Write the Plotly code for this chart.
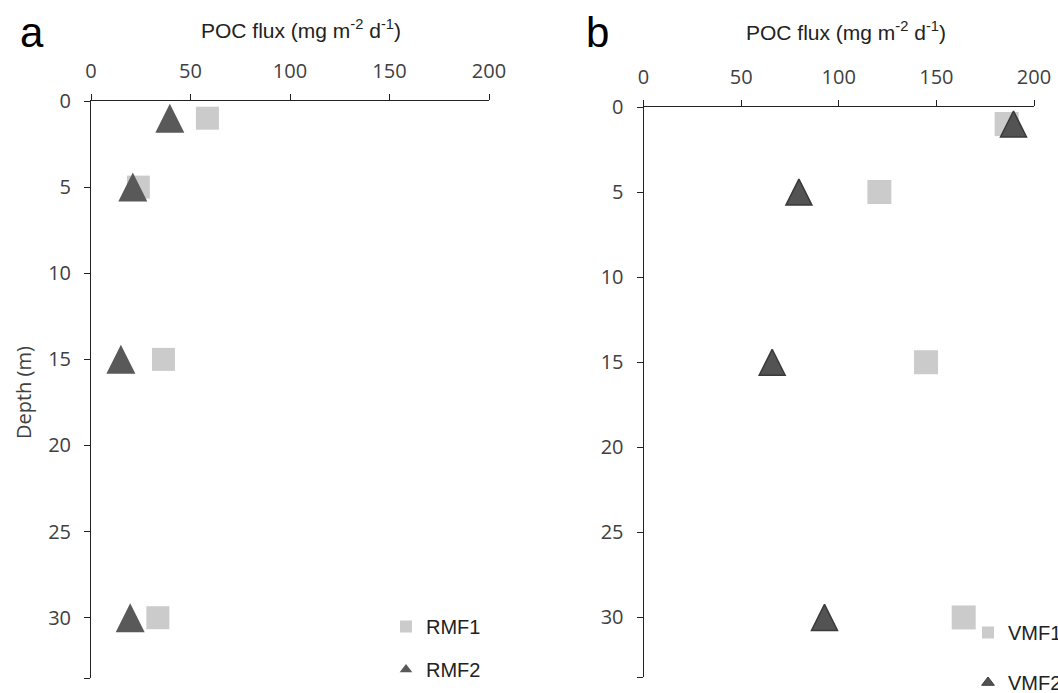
import plotly.graph_objects as go

# Sampling depths (m) and POC flux (mg m-2 d-1) per trap series
depth = [1, 5, 15, 30]
rmf1 = [58.5, 23.8, 36.4, 33.6]
rmf2 = [39.6, 21.0, 15.0, 19.7]
vmf1 = [186.0, 120.8, 144.7, 164.0]
vmf2 = [189.5, 79.6, 65.9, 92.7]

flux_ticks = [0, 50, 100, 150, 200]
depth_ticks = [0, 5, 10, 15, 20, 25, 30]
depth_max = 33.5

W, H = 1058, 693


def px(x):
    return x / W


def py(y):
    return 1 - y / H


SQ_COLOR = "#cbcbcb"
TRI_A = "#595959"
TRI_B = "#535353"
TRI_B_EDGE = "#3a3a3a"

AXIS_FONT = dict(family="Open Sans", size=20, color="#404040")
LABEL_FONT = dict(family="Liberation Sans", size=21, color="#222")


def square(size):
    return dict(symbol="square", size=size, color=SQ_COLOR, line=dict(width=0))


def triangle(size, color, edge=None, edge_w=0):
    # arrow-down turned 180 deg and pushed back by half its size -> centred upward triangle
    return dict(symbol="arrow-down", angle=180, standoff=size / 2, size=size,
                color=color, line=dict(width=edge_w, color=edge or color))


def small_triangle(color, edge=None, edge_w=0):
    return dict(symbol="triangle-up", size=11, color=color,
                line=dict(width=edge_w, color=edge or color))


fig = go.Figure()

# Panel a
fig.add_trace(go.Scatter(x=rmf1, y=depth, mode="markers", marker=square(23),
                         xaxis="x", yaxis="y", showlegend=False, name="RMF1"))
fig.add_trace(go.Scatter(x=rmf2, y=depth, mode="markers", marker=triangle(29, TRI_A),
                         xaxis="x", yaxis="y", showlegend=False, name="RMF2"))
# Panel b
fig.add_trace(go.Scatter(x=vmf1, y=depth, mode="markers", marker=square(24),
                         xaxis="x2", yaxis="y2", showlegend=False, name="VMF1"))
fig.add_trace(go.Scatter(x=vmf2, y=depth, mode="markers",
                         marker=triangle(26, TRI_B, TRI_B_EDGE, 1.5),
                         xaxis="x2", yaxis="y2", showlegend=False, name="VMF2"))

# Legend entries (small symbols)
for name, mk, ax, lg in [
    ("RMF1", square(12), ("x", "y"), "legend"),
    ("RMF2", small_triangle(TRI_A), ("x", "y"), "legend"),
    ("VMF1", square(12), ("x2", "y2"), "legend2"),
    ("VMF2", small_triangle(TRI_B, TRI_B_EDGE, 1), ("x2", "y2"), "legend2"),
]:
    fig.add_trace(go.Scatter(x=[None], y=[None], mode="markers", marker=mk, name=name,
                             xaxis=ax[0], yaxis=ax[1], legend=lg, legendgroup=name))

depth_tickvals = depth_ticks + [depth_max]
depth_ticktext = [str(v) for v in depth_ticks] + [""]


def xaxis(domain, anchor):
    return dict(domain=domain, anchor=anchor, side="top", range=[0, 200],
                tickvals=flux_ticks, ticks="outside", ticklen=6, tickwidth=1,
                tickcolor="#222", showline=True, linecolor="#222", linewidth=1,
                showgrid=False, zeroline=False, tickfont=AXIS_FONT,
                ticklabelstandoff=8)


def yaxis(domain, anchor):
    return dict(domain=domain, anchor=anchor, range=[depth_max, 0],
                tickvals=depth_tickvals, ticktext=depth_ticktext,
                ticks="outside", ticklen=6, tickwidth=1, tickcolor="#222",
                showline=True, linecolor="#222", linewidth=1,
                showgrid=False, zeroline=False, tickfont=AXIS_FONT,
                ticklabelstandoff=9)


def legend_box(x, y, gap):
    return dict(x=px(x), y=py(y), xanchor="left", yanchor="top",
                bgcolor="rgba(0,0,0,0)",
                font=dict(family="Liberation Sans", size=20, color="#222"),
                tracegroupgap=gap, itemsizing="trace")


def note(text, x, y, font, **kw):
    return dict(text=text, x=px(x), y=py(y), xref="paper", yref="paper",
                xanchor="center", yanchor="middle", showarrow=False, font=font, **kw)


fig.update_layout(
    width=W, height=H,
    margin=dict(l=0, r=0, t=0, b=0, autoexpand=False),
    paper_bgcolor="white", plot_bgcolor="white",
    xaxis=xaxis([px(91), px(489)], "y"),
    yaxis=yaxis([py(678), py(101)], "x"),
    xaxis2=xaxis([px(643.5), px(1034)], "y2"),
    yaxis2=yaxis([py(677), py(107)], "x2"),
    legend=legend_box(386, 607, 14),
    legend2=legend_box(968, 613, 21),
    annotations=[
        note("POC flux (mg m<sup>-2</sup> d<sup>-1</sup>)", 301, 29, LABEL_FONT),
        note("POC flux (mg m<sup>-2</sup> d<sup>-1</sup>)", 846, 31, LABEL_FONT),
        note("Depth (m)", 23, 393, dict(family="Open Sans", size=20, color="#404040"),
             textangle=-90),
        note("a", 32, 32, dict(family="Liberation Sans", size=42, color="black")),
        note("b", 597, 32, dict(family="Liberation Sans", size=42, color="black")),
    ],
)

fig.write_html("out.html")
